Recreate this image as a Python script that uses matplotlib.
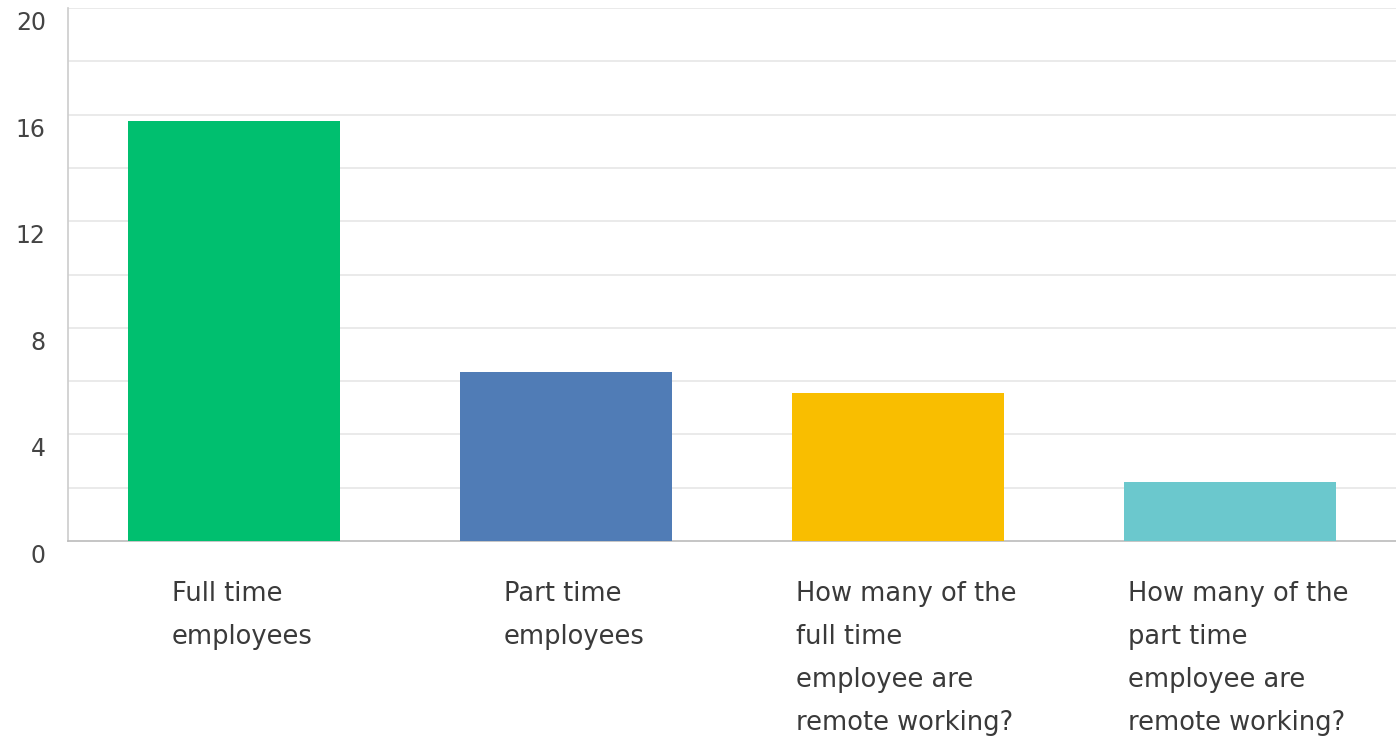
import matplotlib
matplotlib.use("Agg")
import matplotlib.pyplot as plt
from matplotlib.transforms import blended_transform_factory, ScaledTranslation

categories = [
    "Full time\nemployees",
    "Part time\nemployees",
    "How many of the\nfull time\nemployee are\nremote working?",
    "How many of the\npart time\nemployee are\nremote working?",
]
values = [15.76, 6.34, 5.55, 2.21]
colors = ["#00BF6F", "#507CB6", "#F9BE00", "#6BC8CD"]

plt.rcParams["font.family"] = ["DejaVu Sans"]

fig = plt.figure(figsize=(13.96, 7.39), dpi=100)
ax = fig.add_axes([68 / 1396, 1 - 541 / 739, 1 - 68 / 1396, (541 - 8) / 739])

x = range(len(values))
ax.bar(x, values, width=0.64, color=colors, zorder=3)

ax.set_xlim(-0.5, 3.5)
ax.set_ylim(0, 20)

# gridlines every 2, labels every 4
for y in range(2, 21, 2):
    ax.axhline(y, color="#e6e6e6", lw=1.2, zorder=1)
ax.set_yticks(range(0, 21, 4))
ax.set_yticklabels([str(v) for v in range(0, 21, 4)])
ax.tick_params(axis="y", length=0, pad=16, labelsize=17, labelcolor="#444444")
shift = ScaledTranslation(0, -3 / 100, fig.dpi_scale_trans)
for lbl in ax.get_yticklabels():
    lbl.set_verticalalignment("top")
    lbl.set_transform(lbl.get_transform() + shift)
ax.set_xticks([])

for side in ["top", "right"]:
    ax.spines[side].set_visible(False)
ax.spines["left"].set_color("#cccccc")
ax.spines["left"].set_linewidth(1.2)
ax.spines["bottom"].set_color("#bbbbbb")
ax.spines["bottom"].set_linewidth(1.2)

# category labels under the bars
trans = blended_transform_factory(ax.transData, fig.transFigure)
for i, lab in enumerate(categories):
    ax.text(i + 0.025, 1 - 581 / 739, lab, transform=trans, ha="center", va="top",
            multialignment="left", fontsize=18.5, color="#3a3a3a", linespacing=1.85)

fig.savefig("out.png", dpi=100)
